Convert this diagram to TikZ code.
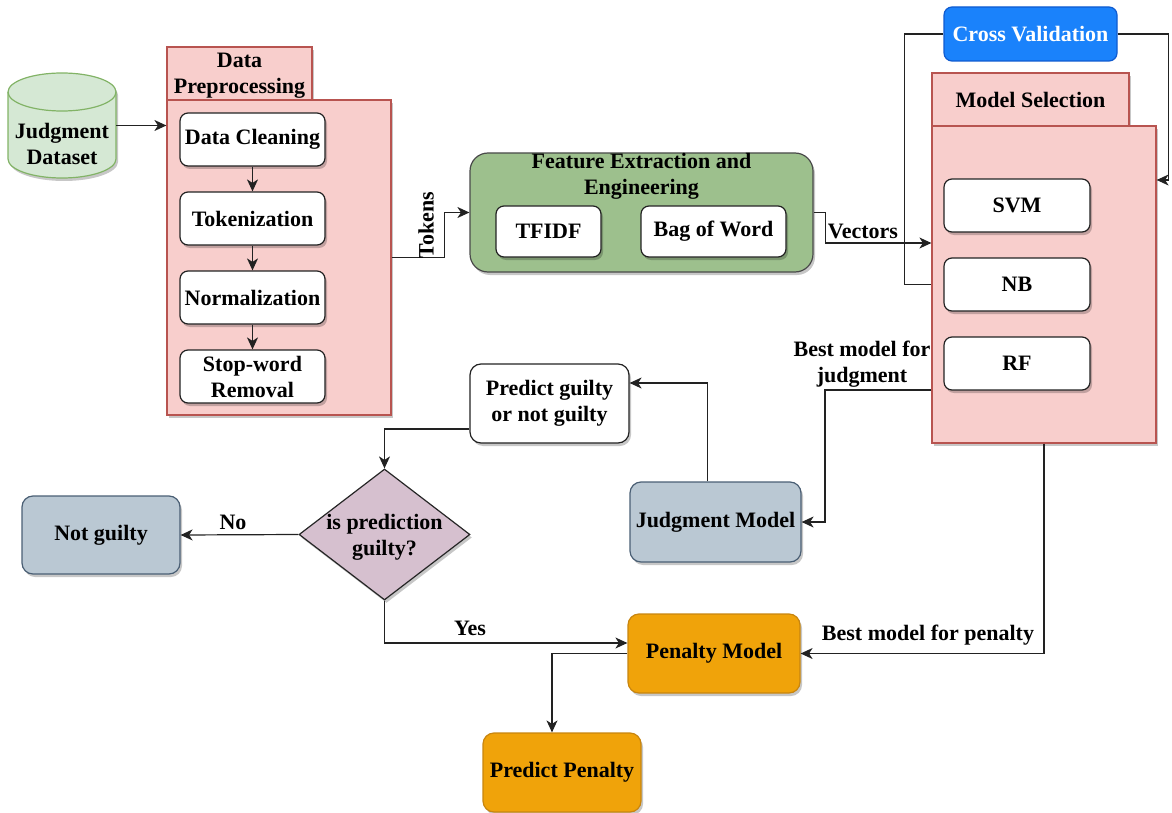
\documentclass[tikz,border=0pt]{standalone}
\usepackage{fontspec}
\setmainfont{Liberation Serif}
\usetikzlibrary{arrows.meta,shapes.geometric,shadows}

\definecolor{pinkfill}{HTML}{F8CECC}
\definecolor{pinkline}{HTML}{B85450}
\definecolor{dsfill}{HTML}{D5E8D4}
\definecolor{dsline}{HTML}{82B366}
\definecolor{fefill}{HTML}{9DC08D}
\definecolor{feline}{HTML}{4A4A4A}
\definecolor{cvfill}{HTML}{1A82FB}
\definecolor{cvline}{HTML}{0F5BD0}
\definecolor{slatefill}{HTML}{BAC8D3}
\definecolor{slateline}{HTML}{4A5F74}
\definecolor{orangefill}{HTML}{F0A30A}
\definecolor{orangeline}{HTML}{C8850F}
\definecolor{mauvefill}{HTML}{D6C0CF}
\definecolor{wireline}{HTML}{222222}

\tikzset{
  every node/.style={font=\bfseries\fontsize{22}{26}\selectfont, align=center, inner sep=0pt},
  shade/.style={drop shadow={shadow xshift=2pt, shadow yshift=-3pt, opacity=0.22, fill=black}},
  panel/.style={draw=pinkline, fill=pinkfill, line width=1.2pt, shade},
  stepbox/.style={draw=wireline, fill=white, rounded corners=8pt, line width=1.2pt, shade},
  slatebox/.style={draw=slateline, fill=slatefill, rounded corners=11pt, line width=1.2pt, shade},
  orangebox/.style={draw=orangeline, fill=orangefill, rounded corners=11pt, line width=1.2pt, shade},
  wire/.style={draw=wireline, line width=1.2pt},
  arr/.style={wire, -{Stealth[length=12pt, width=11pt, inset=3.5pt]}},
}

\begin{document}
\begin{tikzpicture}[x=1pt, y=-1pt]
\useasboundingbox (0,0) rectangle (1172,813);

% ---- dataset cylinder ----
\fill[black, opacity=0.22, shift={(2,3)}] (8,92) -- (8,159)
  arc[start angle=180, end angle=360, x radius=54pt, y radius=19pt] -- (116,92)
  arc[start angle=0, end angle=180, x radius=54pt, y radius=19pt] -- cycle;
\filldraw[draw=dsline, fill=dsfill, line width=1.2pt] (8,92) -- (8,159)
  arc[start angle=180, end angle=360, x radius=54pt, y radius=19pt] -- (116,92)
  arc[start angle=0, end angle=180, x radius=54pt, y radius=19pt] -- cycle;
\draw[draw=dsline, line width=1.2pt] (8,92)
  arc[start angle=180, end angle=360, x radius=54pt, y radius=19pt];
\node[minimum width=108pt, minimum height=105pt] (ds) at (62,125.5) {};
\node at (62,144) {Judgment\\Dataset};

% ---- data preprocessing ----
\node[panel, minimum width=145pt, minimum height=53pt] (pretab) at (239.5,73.5) {};
\node (pretext) at (239.5,76) {Data\\Preprocessing};
\node[panel, minimum width=224pt, minimum height=315pt] (pre) at (279,257.5) {};
\node[stepbox, minimum width=145pt, minimum height=53pt] (clean) at (252.5,139.5) {Data Cleaning};
\node[stepbox, minimum width=145pt, minimum height=53pt] (tok) at (252.5,218.5) {Tokenization};
\node[stepbox, minimum width=145pt, minimum height=53pt] (norm) at (252.5,297.5) {Normalization};
\node[stepbox, minimum width=145pt, minimum height=53pt] (stop) at (252.5,376.5) {Stop-word\\Removal};
\draw[arr] (clean) -- (tok);
\draw[arr] (tok) -- (norm);
\draw[arr] (norm) -- (stop);
\draw[arr] (ds.east) -- (pre.west |- ds.east);

% ---- feature extraction ----
\node[draw=feline, fill=fefill, rounded corners=18pt, line width=1.2pt, shade,
      minimum width=343pt, minimum height=119pt] (fe) at (641.5,212.5) {};
\node (fetitle) at (641.5,176) {Feature Extraction and\\Engineering};
\node[stepbox, minimum width=105pt, minimum height=51pt] (tfidf) at (548.5,231.5) {TFIDF};
\node[stepbox, minimum width=145pt, minimum height=51pt] (bow) at (713.5,231.5) {Bag of Word};
\draw[arr] (pre.east) -- ++(53,0) |- (fe.west);
\node[rotate=90] (toklbl) at (426,225) {Tokens};

% ---- model selection ----
\node[panel, minimum width=197pt, minimum height=53pt] (mstab) at (1030.5,99.5) {Model Selection};
\node[panel, minimum width=224pt, minimum height=317pt] (ms) at (1044,284.5) {};
\node[stepbox, minimum width=146pt, minimum height=53pt] (svm) at (1017,205.5) {SVM};
\node[stepbox, minimum width=146pt, minimum height=53pt] (nb) at (1017,284.5) {NB};
\node[stepbox, minimum width=146pt, minimum height=53pt] (rf) at (1017,363.5) {RF};
\draw[arr] (fe.east) -- ++(12,0) |- ([yshift=41.5pt]ms.west);
\node (veclbl) at (863,231) {Vectors};

% ---- cross validation ----
\node[draw=cvline, fill=cvfill, text=white, rounded corners=8pt, line width=1.2pt,
      minimum width=173pt, minimum height=54pt] (cv) at (1030.5,34) {Cross Validation};
\draw[wire] (cv.west) -- ++(-39,0) |- (ms.west);
\draw[arr] (cv.east) -- ++(51,0) |- ([yshift=104.5pt]ms.east);

% ---- judgment branch ----
\node[slatebox, minimum width=171pt, minimum height=80pt] (jm) at (715.5,522) {Judgment Model};
\node[stepbox, rounded corners=11pt, minimum width=159pt, minimum height=79pt] (pg) at (549.5,403.5) {Predict guilty\\or not guilty};
\draw[arr] ([yshift=-105.5pt]ms.west) -- ++(-106.5,0) |- (jm.east);
\node (jmlbl) at (862,364) {Best model for\\judgment};
\draw[arr] ([xshift=-8pt]jm.north) |- ([yshift=20.5pt]pg.east);

\node[diamond, draw=black!85, fill=mauvefill, line width=1.2pt, shade,
      minimum width=171pt, minimum height=131pt] (dm) at (384.5,534.5) {};
\node (dmtext) at (384.5,537) {is prediction\\guilty?};
\draw[arr] ([yshift=-25.5pt]pg.west) -| (dm.north);

\node[slatebox, minimum width=158pt, minimum height=78pt] (ng) at (101,535) {Not guilty};
\draw[arr] (dm.west) -- (ng.east);
\node (nolbl) at (233,522) {No};

% ---- penalty branch ----
\node[orangebox, minimum width=172pt, minimum height=79pt] (pm) at (714,653.5) {Penalty Model};
\node[orangebox, minimum width=158pt, minimum height=79pt] (pp) at (562,772.5) {Predict Penalty};
\draw[arr] (dm.south) |- ([yshift=10.5pt]pm.west);
\node (yeslbl) at (470,628) {Yes};
\draw[arr] (ms.south) |- (pm.east);
\node (pmlbl) at (928,635) {Best model for penalty};
\draw[arr] (pm.west) -| ([xshift=-10pt]pp.north);
\end{tikzpicture}
\end{document}
